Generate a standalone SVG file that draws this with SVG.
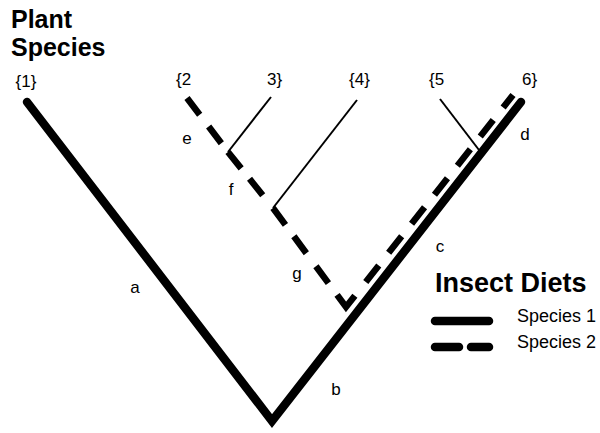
<svg xmlns="http://www.w3.org/2000/svg" width="600" height="433" viewBox="0 0 600 433">
<style>
text{font-family:"Liberation Sans",Arial,sans-serif;fill:#000}
.title{font-weight:bold;font-size:25px}
.leaf{font-size:17px}
.lbl{font-size:17px;text-anchor:middle}
.legend{font-size:18px}
.sp1{fill:none;stroke:#000;stroke-width:8.5;stroke-linejoin:miter;stroke-linecap:round}
.sp2{fill:none;stroke:#000;stroke-width:6.5;stroke-linejoin:miter;stroke-miterlimit:10;stroke-linecap:butt}
.thin{fill:none;stroke:#000;stroke-width:2}
</style>
<rect width="600" height="433" fill="#fff"/>
<g id="title">
<text class="title" x="11" y="28">Plant</text>
<text class="title" x="11" y="56">Species</text>
</g>
<g id="leaf-1"><text class="leaf" x="26" y="87" text-anchor="middle">{1}</text></g>
<g id="leaf-2"><text class="leaf" x="176" y="85">{2</text></g>
<g id="leaf-3"><text class="leaf" x="267" y="85">3}</text></g>
<g id="leaf-4"><text class="leaf" x="359.5" y="85" text-anchor="middle">{4}</text></g>
<g id="leaf-5"><text class="leaf" x="429" y="85">{5</text></g>
<g id="leaf-6"><text class="leaf" x="522" y="85">6}</text></g>
<g id="connectors">
<path id="species1" class="sp1" d="M27,102 L272,421 L521,102"/>
<path id="species2" class="sp2" d="M187,98 L228,152 L273,208 L346,307 L513,95" stroke-dasharray="21 14.8 21 11 21 13.4 21 16.4 21 14.2 21 16.2 21 14.6 29.4 17.6 21 16 21 16 21 16 21 16 21 16 21 16 20 10"/>
<line class="thin" x1="271" y1="97" x2="228" y2="152"/>
<line class="thin" x1="357" y1="100" x2="273" y2="208"/>
<line class="thin" x1="440" y1="99" x2="479" y2="150"/>
</g>
<g id="branch-labels">
<text class="lbl" x="135" y="293">a</text>
<text class="lbl" x="336" y="395">b</text>
<text class="lbl" x="440" y="252">c</text>
<text class="lbl" x="525" y="140">d</text>
<text class="lbl" x="187" y="144">e</text>
<text class="lbl" x="231" y="195">f</text>
<text class="lbl" x="297" y="279">g</text>
</g>
<g id="legend">
<text x="435" y="292" font-size="27" font-weight="bold">Insect Diets</text>
<line class="sp1" x1="435" y1="321" x2="489" y2="321" stroke-width="7"/>
<line class="sp1" x1="435" y1="347" x2="459" y2="347" stroke-width="7"/>
<line class="sp1" x1="471" y1="347" x2="489" y2="347" stroke-width="7"/>
<text class="legend" x="517" y="322">Species 1</text>
<text class="legend" x="517" y="348">Species 2</text>
</g>
</svg>
